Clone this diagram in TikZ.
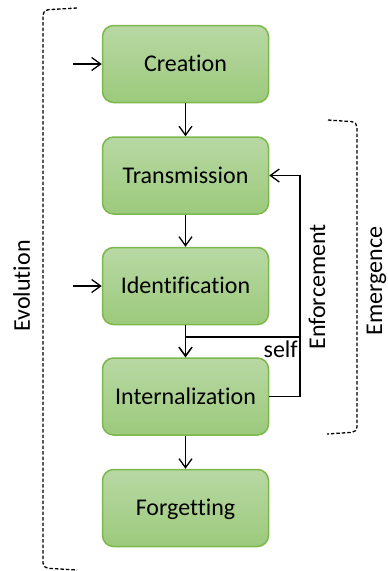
\documentclass[tikz,border=0pt]{standalone}
\usepackage{fontspec}
\setmainfont{Carlito}[Ligatures=NoCommon]
\usetikzlibrary{arrows.meta}
\definecolor{boxtop}{RGB}{184,216,164}
\definecolor{boxbot}{RGB}{156,202,124}
\definecolor{boxline}{RGB}{124,184,76}
\begin{document}
\begin{tikzpicture}[x=1pt,y=-1pt,font=\fontsize{24}{28}\selectfont,
  stage/.style={draw=boxline,line width=1.5pt,rounded corners=11pt,top color=boxtop,bottom color=boxbot,
    minimum width=166pt,minimum height=77pt,inner sep=0pt,text height=18pt,text depth=2.5pt},
  conn/.style={line width=1.3pt,-{Straight Barb[length=9pt,width=13pt]}},
  brk/.style={line width=1.3pt,dash pattern=on 3.5pt off 2pt,rounded corners=5pt},
  lbl/.style={inner sep=0pt}]
\useasboundingbox (0,0) rectangle (388,571);
\node[stage] (cre) at (185.5,64) {Creation};
\node[stage] (tra) at (185.5,175.5) {Transmission};
\node[stage] (ide) at (185.5,286) {Identification};
\node[stage] (int) at (185.5,396.5) {Internalization};
\node[stage] (for) at (185.5,508) {Forgetting};
\coordinate (inC) at (73,64);
\coordinate (inI) at (73,286);
\coordinate (fbx) at (300,0);
\coordinate (br) at (300,337);
\draw[conn] (inC) -- (cre.west);
\draw[conn] (inI) -- (ide.west);
\draw[conn] (cre.south) -- (tra.north);
\draw[conn] (tra.south) -- (ide.north);
\draw[conn] (ide.south) -- (int.north);
\draw[conn] (int.south) -- (for.north);
\draw[conn] (int.east) -| (fbx |- tra.east) -- (tra.east);
\draw[conn] (br) -| (int.north);
\node[lbl,anchor=base east] (self) at (298,357) {self};
\node[lbl,anchor=base,rotate=90] (enf) at (325,287) {Enforcement};
\node[lbl,anchor=base,rotate=90] (eme) at (382,281) {Emergence};
\node[lbl,anchor=base,rotate=90] (evo) at (30,286) {Evolution};
\draw[brk] (77,8) -- (43,10) -- (43,568) -- (77,570);
\draw[brk] (328,120) -- (357,122) -- (357,432) -- (327,434);
\end{tikzpicture}
\end{document}
